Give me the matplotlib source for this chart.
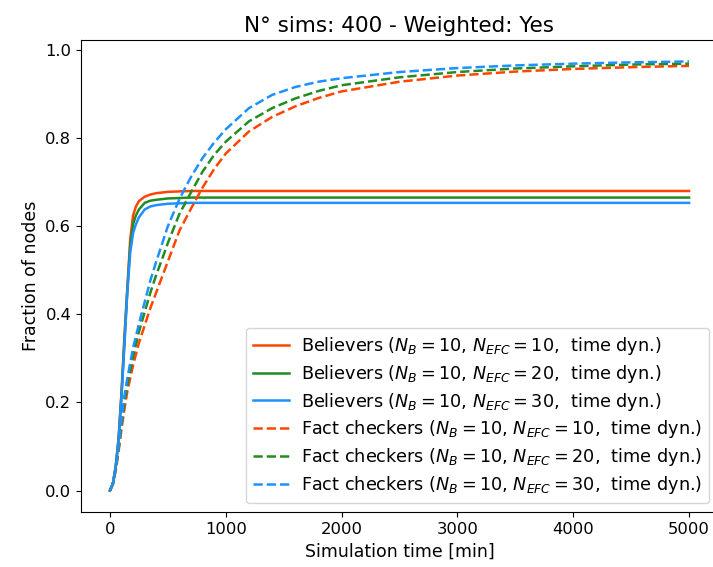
import matplotlib
matplotlib.use("Agg")
import matplotlib.pyplot as plt

# time grid for believers and fact checkers
t_b = [0, 25, 50, 75, 100, 125, 150, 175, 200, 225, 250, 300, 350, 400, 500, 700, 1000, 2000, 3000, 4000, 5000]
bel_10 = [0, 0.015, 0.055, 0.12, 0.225, 0.35, 0.46, 0.57, 0.625, 0.645, 0.657, 0.667, 0.672, 0.675, 0.678, 0.680, 0.680, 0.680, 0.680, 0.680, 0.680]
bel_20 = [0, 0.015, 0.055, 0.118, 0.22, 0.34, 0.455, 0.555, 0.605, 0.625, 0.638, 0.653, 0.658, 0.660, 0.663, 0.665, 0.665, 0.665, 0.665, 0.665, 0.665]
bel_30 = [0, 0.015, 0.055, 0.115, 0.215, 0.33, 0.45, 0.54, 0.585, 0.605, 0.62, 0.638, 0.645, 0.648, 0.651, 0.653, 0.653, 0.653, 0.653, 0.653, 0.653]

t_f = [0, 25, 50, 75, 100, 125, 150, 200, 250, 300, 350, 400, 450, 500, 600, 700, 800, 900, 1000,
       1200, 1400, 1600, 1800, 2000, 2500, 3000, 3500, 4000, 4500, 5000]
fc_10 = [0, 0.015, 0.045, 0.09, 0.14, 0.185, 0.225, 0.285, 0.335, 0.375, 0.415, 0.45, 0.485, 0.52, 0.59, 0.64, 0.688, 0.73, 0.765,
         0.815, 0.848, 0.872, 0.891, 0.906, 0.928, 0.942, 0.951, 0.957, 0.961, 0.964]
fc_20 = [0, 0.015, 0.05, 0.095, 0.15, 0.20, 0.24, 0.305, 0.36, 0.405, 0.45, 0.49, 0.525, 0.562, 0.628, 0.677, 0.724, 0.762, 0.792,
         0.838, 0.868, 0.89, 0.907, 0.92, 0.938, 0.950, 0.958, 0.963, 0.967, 0.969]
fc_30 = [0, 0.015, 0.05, 0.10, 0.16, 0.215, 0.255, 0.324, 0.378, 0.428, 0.478, 0.52, 0.56, 0.60, 0.662, 0.712, 0.755, 0.79, 0.82,
         0.868, 0.898, 0.916, 0.928, 0.936, 0.950, 0.959, 0.965, 0.969, 0.972, 0.974]

n_efc = [10, 20, 30]
colors = ["orangered", "forestgreen", "dodgerblue"]

fig = plt.figure(figsize=(7.13, 5.67), dpi=100)
# right spine lies just beyond the image edge, as in the reference
ax = fig.add_axes([81 / 713, 55 / 567, 637 / 713, 472 / 567])

for n, yv, c in zip(n_efc, [bel_10, bel_20, bel_30], colors):
    ax.plot(t_b, yv, color=c, lw=1.8, ls="-",
            label=r"Believers ($N_B = 10$, $N_{EFC} = %d$,  time dyn.)" % n)
for n, yv, c in zip(n_efc, [fc_10, fc_20, fc_30], colors):
    ax.plot(t_f, yv, color=c, lw=1.8, ls="--",
            label=r"Fact checkers ($N_B = 10$, $N_{EFC} = %d$,  time dyn.)" % n)

ax.set_title("N° sims: 400 - Weighted: Yes", fontsize=15.5)
ax.set_xlabel("Simulation time [min]", fontsize=12.5)
ax.set_ylabel("Fraction of nodes", fontsize=12.5)
ax.tick_params(labelsize=11.8)
ax.set_xticks([0, 1000, 2000, 3000, 4000, 5000])
ax.set_yticks([0.0, 0.2, 0.4, 0.6, 0.8, 1.0])
ax.legend(loc="lower right", fontsize=12.7, borderaxespad=0.5,
          labelspacing=0.33, handlelength=2.0, handletextpad=0.7)

fig.savefig("out.png", dpi=100)
